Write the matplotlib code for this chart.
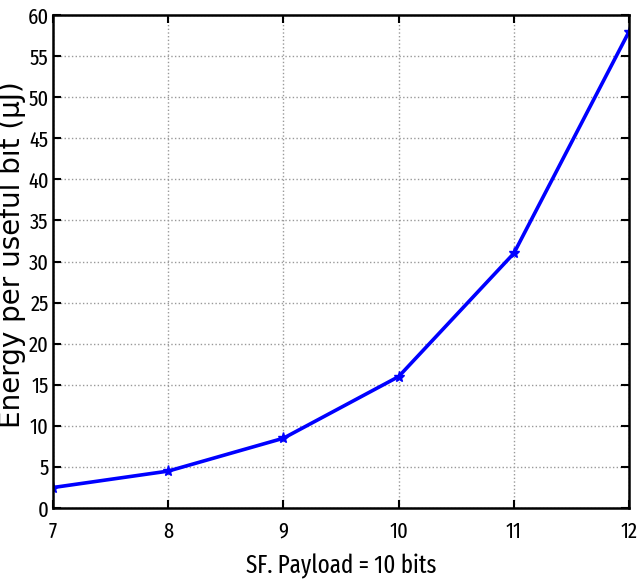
import matplotlib.pyplot as plt

sf = [7, 8, 9, 10, 11, 12]
energy = [2.5, 4.5, 8.5, 16, 31, 58]
yticks = list(range(0, 61, 5))

narrow = ['Fira Sans Extra Condensed', 'DejaVu Sans']

fig = plt.figure(figsize=(6.38, 5.8), dpi=100)
ax = fig.add_axes([0.083, 0.124, 0.903, 0.85])

ax.plot(sf, energy, color='#0000ff', linewidth=2.6, marker='*', markersize=8)

ax.set_xlim(7, 12)
ax.set_ylim(0, 60)
ax.set_xticks(sf)
ax.set_yticks(yticks)
ax.grid(True, color='#999999', linestyle=':', linewidth=1)
ax.tick_params(direction='in', top=True, right=True, length=6, width=1.5, labelsize=16)
ax.tick_params(axis='x', pad=9)
ax.tick_params(axis='y', pad=3)
for lab in ax.get_xticklabels() + ax.get_yticklabels():
    lab.set_family(narrow)
for s in ax.spines.values():
    s.set_linewidth(1.8)

ax.set_xlabel('SF. Payload = 10 bits', fontsize=18, family=narrow)
ax.xaxis.set_label_coords(0.5, -0.093)
ax.set_ylabel('Energy per useful bit (\u03bcJ)', fontsize=20)
ax.yaxis.set_label_coords(-0.046, 0.515)

fig.savefig('out.png', dpi=100)
